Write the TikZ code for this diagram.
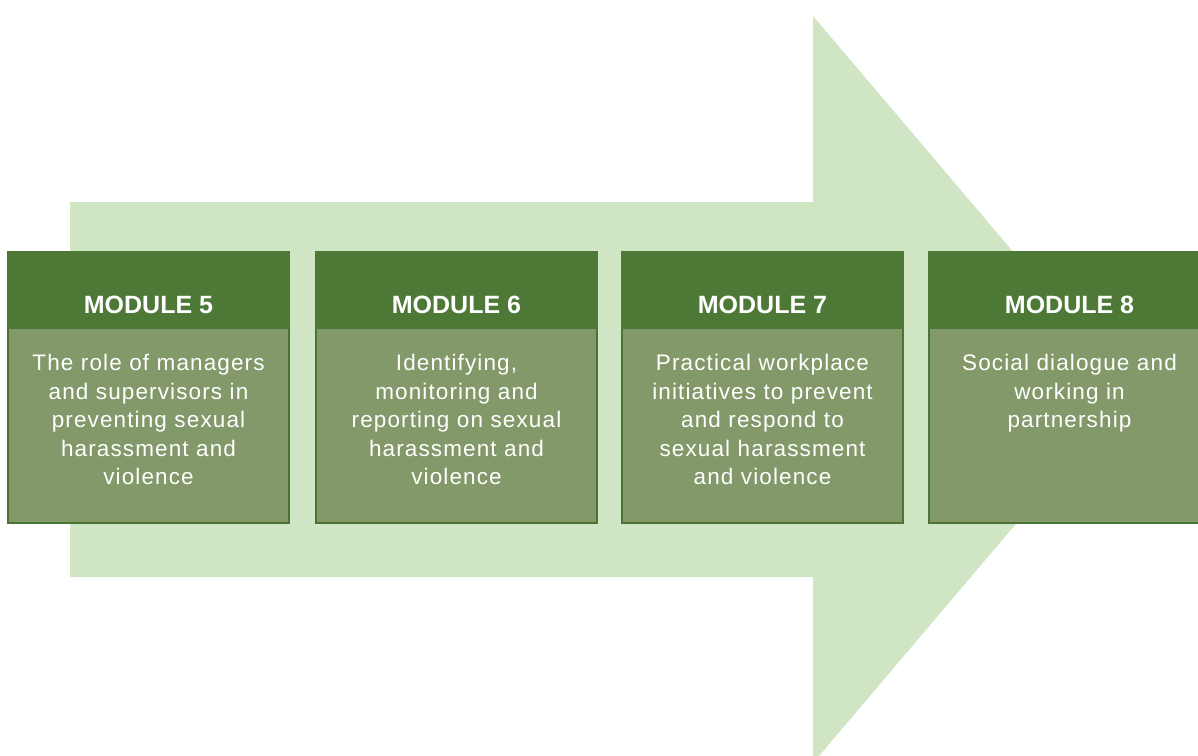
\documentclass[tikz,border=0pt]{standalone}
\usepackage{fontspec}
\setmainfont{Liberation Sans}
\newfontfamily\bodyfont[LetterSpace=5]{Liberation Sans}
\definecolor{arrowgreen}{HTML}{CFE5C4}
\definecolor{headgreen}{HTML}{4E7836}
\definecolor{bodygreen}{HTML}{83996A}
\definecolor{edgegreen}{HTML}{4A7434}
\begin{document}
\begin{tikzpicture}[x=1pt,y=-1pt,
  bigarrow/.style={fill=arrowgreen},
  modbox/.style={fill=bodygreen,draw=edgegreen,line width=2pt},
  modhead/.style={fill=headgreen},
  headtext/.style={text=white,font=\fontsize{25}{30}\selectfont\bfseries,inner sep=0pt,anchor=base},
  bodytext/.style={text=white,font=\bodyfont\fontsize{22.5}{28.5}\selectfont,align=center,text width=270pt,inner sep=0pt,anchor=north}]
\useasboundingbox (0,0) rectangle (1198,755);
\clip (0,0) rectangle (1198,755);
% background arrow
\fill[bigarrow] (70,202) -- (813,202) -- (813,16) -- (1130,389.5) -- (813,763) -- (813,577) -- (70,577) -- cycle;
% module boxes
\foreach \n/\x/\txt in {
  5/8/{The role of managers\\and supervisors in\\preventing sexual\\harassment and\\violence},
  6/316/{Identifying,\\monitoring and\\reporting on sexual\\harassment and\\violence},
  7/622/{Practical workplace\\initiatives to prevent\\and respond to\\sexual harassment\\and violence},
  8/929/{Social dialogue and\\working in\\partnership}}{
  \path[modbox] (\x,252) rectangle ++(281,271);
  \fill[modhead] (\x-1,251) rectangle ++(283,78);
  \node[headtext] (head\n) at (\x+140.5,313) {MODULE \n};
  \node[bodytext] (body\n) at (\x+140.5,354) {\txt};
}
\end{tikzpicture}
\end{document}
